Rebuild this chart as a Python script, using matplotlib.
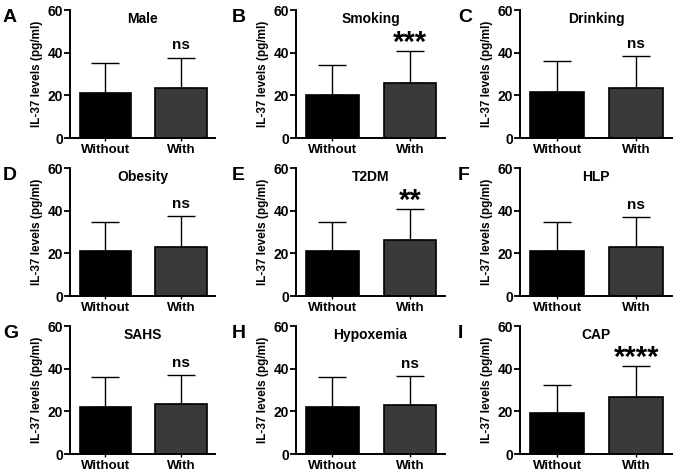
import matplotlib
matplotlib.use("Agg")
import matplotlib.pyplot as plt

plt.rcParams['font.family'] = ['Liberation Sans', 'DejaVu Sans']
plt.rcParams['font.weight'] = 'bold'

letters = ["A", "B", "C", "D", "E", "F", "G", "H", "I"]
titles = ["Male", "Smoking", "Drinking", "Obesity", "T2DM", "HLP", "SAHS", "Hypoxemia", "CAP"]
categories = ["Without", "With"]
means_without = [20.9, 20.3, 21.7, 21.2, 21.0, 21.0, 21.8, 21.8, 19.0]
sd_without = [14.3, 13.7, 14.2, 13.7, 13.6, 13.7, 14.3, 14.3, 13.4]
means_with = [23.3, 25.7, 23.6, 22.9, 26.3, 23.0, 23.4, 23.0, 26.8]
sd_with = [14.3, 14.9, 14.7, 14.6, 14.3, 14.1, 13.5, 13.5, 14.3]
signif = ["ns", "***", "ns", "ns", "**", "ns", "ns", "ns", "****"]
yticks = [0, 20, 40, 60]

W, H = 677, 474
fig = plt.figure(figsize=(W / 100, H / 100), dpi=100)

col_left = [70, 296, 520]
col_width = [145, 149, 152]
row_top = [10, 168, 326]
ax_h = 128
letter_x = [3, 232, 458]

for i in range(9):
    r, c = divmod(i, 3)
    left = col_left[c]
    top = row_top[r]
    ax = fig.add_axes([left / W, 1 - (top + ax_h) / H, col_width[c] / W, ax_h / H])
    x = [0, 1]
    vals = [means_without[i], means_with[i]]
    sds = [sd_without[i], sd_with[i]]
    ax.errorbar(x, vals, yerr=[[0, 0], sds], fmt='none', ecolor='black',
                elinewidth=1.0, capsize=10, capthick=1.0, zorder=1)
    ax.bar(x, vals, width=0.68, color=['#000000', '#3a3a3a'],
           edgecolor='black', linewidth=1.2, zorder=2)
    ax.set_xlim(-0.47, 1.45)
    ax.set_ylim(0, 60)
    ax.set_yticks(yticks)
    ax.set_yticklabels([str(t) for t in yticks], fontsize=10, fontweight='bold')
    ax.set_xticks(x)
    ax.set_xticklabels(categories, fontsize=9.5, fontweight='bold')
    ax.tick_params(axis='y', length=4, width=1.3, pad=1)
    ax.tick_params(axis='x', length=2, width=1.0, pad=2)
    for s in ['top', 'right']:
        ax.spines[s].set_visible(False)
    for s in ['left', 'bottom']:
        ax.spines[s].set_linewidth(1.4)
    ax.set_ylabel("IL-37 levels (pg/ml)", fontsize=8.5, fontweight='bold', labelpad=3)
    ax.text(0.5, 0.985, titles[i], transform=ax.transAxes, ha='center', va='top',
            fontsize=10, fontweight='bold')
    top_val = means_with[i] + sd_with[i]
    if signif[i] == "ns":
        ax.text(1, top_val + 2.5, "ns", ha='center', va='bottom', fontsize=11, fontweight='bold')
    else:
        ax.text(1, top_val + 0.0, signif[i], ha='center', va='baseline', fontsize=21, fontweight='bold')
    fig.text(letter_x[c] / W, 1 - (top - 1) / H, letters[i], ha='left', va='top',
             fontsize=14, fontweight='bold')

fig.savefig("out.png", dpi=100)
